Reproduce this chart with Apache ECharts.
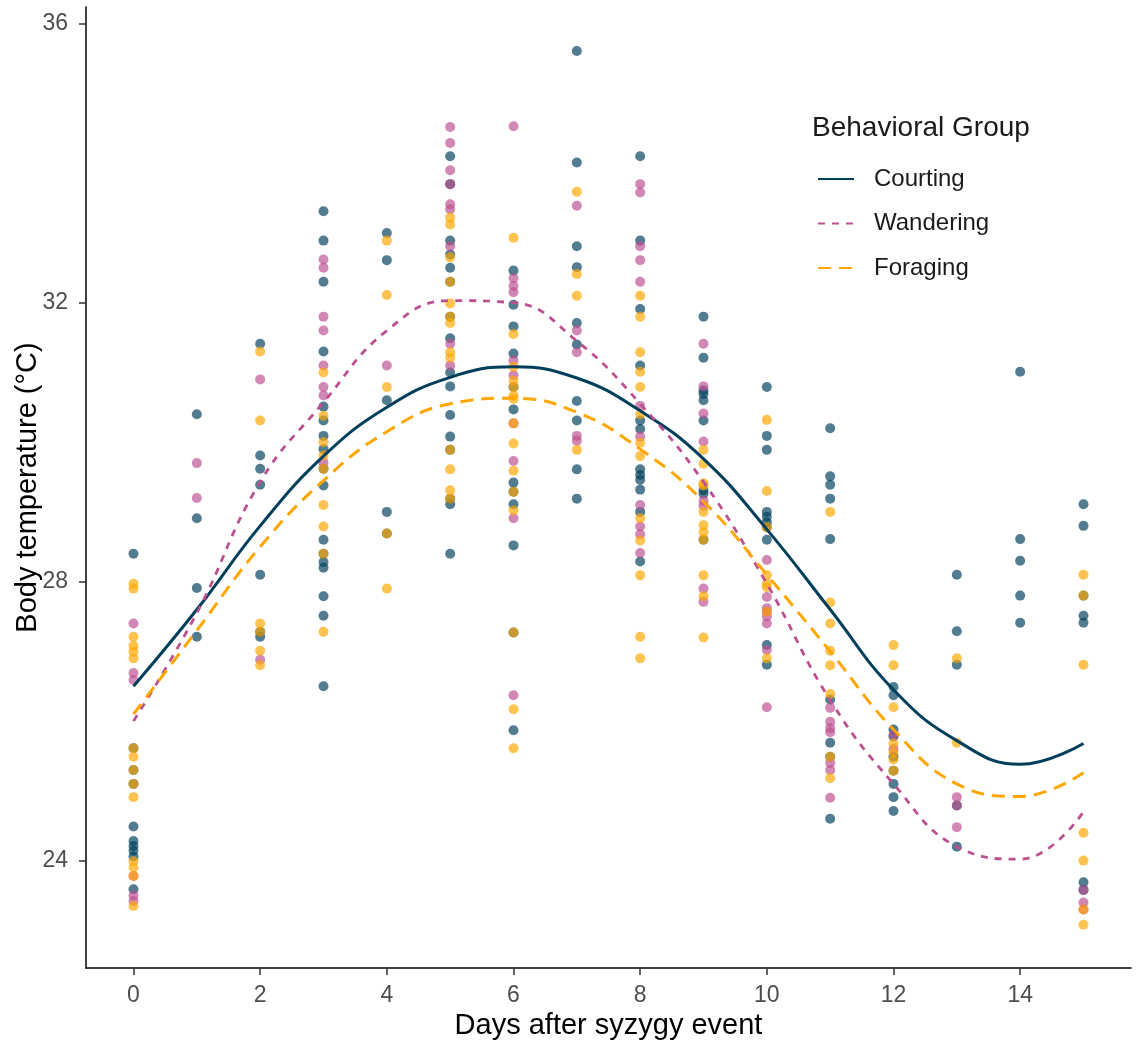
<!DOCTYPE html>
<html>
<head>
<meta charset="utf-8">
<title>Body temperature after syzygy</title>
<script src="https://cdn.jsdelivr.net/npm/echarts@6/dist/echarts.min.js"></script>
<style>
  html, body { margin: 0; padding: 0; background: #ffffff; }
  #chart { width: 1136px; height: 1047px; }
</style>
</head>
<body>
<div id="chart"></div>
<script>
// Days after the syzygy event (x positions of the fitted curves)
const days = [0, 1, 2, 3, 4, 5, 6, 7, 8, 9, 10, 11, 12, 13, 14, 15];

// Smoothed body temperature per behavioral group
const courtingFit  = [26.5, 27.6, 28.8, 29.8, 30.5, 30.93, 31.08, 30.92, 30.45, 29.76, 28.75, 27.6, 26.45, 25.72, 25.38, 25.68];
const wanderingFit = [26.0, 27.55, 29.43, 30.57, 31.6, 32.03, 32.0, 31.45, 30.55, 29.43, 27.97, 26.3, 25.1, 24.2, 24.02, 24.7];
const foragingFit  = [26.1, 27.3, 28.5, 29.45, 30.15, 30.55, 30.63, 30.43, 29.9, 29.15, 28.1, 27.0, 25.88, 25.1, 24.92, 25.26];

// Individual measurements, one list per day (index = day)
const courtingTemps = [
  [28.40, 25.61, 25.30, 25.10, 24.49, 24.28, 24.21, 24.14, 24.06, 23.59],
  [30.40, 28.91, 27.91, 27.21],
  [31.41, 29.81, 29.62, 29.39, 28.10, 27.28, 27.21],
  [33.31, 32.89, 32.30, 31.30, 30.51, 30.31, 30.09, 29.90, 29.62, 29.38, 28.60, 28.40, 28.28, 28.20, 27.79, 27.51, 26.50],
  [33.00, 32.61, 30.60, 29.00, 28.69],
  [34.10, 33.70, 32.89, 32.69, 32.50, 32.30, 31.80, 31.49, 31.00, 30.80, 30.39, 30.08, 29.89, 29.19, 29.11, 28.40],
  [32.46, 31.97, 31.66, 31.27, 30.79, 30.47, 29.42, 29.29, 29.11, 28.52, 27.27, 25.87],
  [35.61, 34.01, 32.81, 32.51, 31.71, 31.40, 30.59, 30.31, 29.61, 29.19],
  [34.10, 32.89, 31.91, 31.10, 30.31, 30.19, 29.61, 29.53, 29.46, 29.32, 29.00, 28.29],
  [31.80, 31.21, 30.74, 30.69, 30.60, 30.31, 29.31, 29.26, 28.60],
  [30.79, 30.09, 29.89, 29.00, 28.93, 28.85, 28.78, 28.60, 27.09, 26.81],
  [30.20, 29.51, 29.39, 29.19, 28.61, 26.31, 25.69, 25.49, 24.60],
  [26.49, 26.37, 25.88, 25.78, 25.49, 25.29, 25.10, 24.91, 24.71],
  [28.10, 27.29, 26.81, 24.79, 24.20],
  [31.01, 28.61, 28.30, 27.80, 27.41],
  [29.11, 28.80, 27.80, 27.51, 27.41, 23.69, 23.58]
];
const wanderingTemps = [
  [27.40, 26.69, 26.59, 23.78, 23.50, 23.42],
  [29.70, 29.20],
  [30.90, 26.88],
  [32.62, 32.50, 31.80, 31.60, 31.10, 30.79, 30.67, 29.71],
  [31.10],
  [34.52, 34.29, 33.90, 33.70, 33.41, 33.34, 32.81, 31.41, 31.10],
  [34.53, 32.35, 32.24, 32.15, 31.17, 30.96, 30.27, 29.73, 28.91, 26.37],
  [33.39, 31.60, 31.29, 30.09, 30.02],
  [33.70, 33.58, 32.81, 32.61, 32.30, 30.52, 30.08, 29.10, 28.79, 28.68, 28.41],
  [31.41, 30.80, 30.41, 30.01, 29.16, 29.09, 27.90, 27.71],
  [28.31, 27.78, 27.62, 27.57, 27.50, 27.40, 27.02, 26.20],
  [26.19, 25.99, 25.90, 25.84, 25.40, 25.30, 24.90],
  [25.80, 25.60],
  [24.91, 24.79, 24.48],
  [],
  [23.58, 23.40, 23.30]
];
const foragingTemps = [
  [27.97, 27.90, 27.21, 27.08, 27.00, 26.90, 25.61, 25.49, 25.30, 25.10, 24.91, 23.99, 23.90, 23.78, 23.35],
  [],
  [31.30, 30.31, 27.40, 27.28, 27.01, 26.80],
  [31.00, 30.38, 30.00, 29.81, 29.62, 29.10, 28.79, 28.40, 27.28],
  [32.89, 32.11, 30.79, 28.69, 27.90],
  [33.22, 33.12, 32.65, 32.30, 31.99, 31.80, 31.71, 31.29, 31.21, 29.89, 29.61, 29.31, 29.19],
  [32.93, 31.55, 31.08, 30.88, 30.79, 30.67, 30.62, 30.27, 29.98, 29.59, 29.29, 29.02, 27.27, 26.17, 25.61],
  [33.59, 32.41, 32.10, 29.89],
  [32.10, 31.80, 31.29, 31.01, 30.79, 30.40, 29.99, 29.80, 28.91, 28.59, 28.09, 27.21, 26.90],
  [29.89, 29.69, 29.41, 29.38, 29.00, 28.81, 28.71, 28.60, 28.09, 27.79, 27.20],
  [30.32, 29.30, 28.78, 28.09, 27.97, 27.92, 27.57, 26.90],
  [29.00, 27.70, 27.40, 27.01, 26.80, 26.39, 25.49, 25.18],
  [27.09, 26.80, 26.20, 25.68, 25.55, 25.45, 25.29],
  [26.90, 25.69],
  [],
  [28.10, 27.80, 26.81, 24.40, 24.00, 23.30, 23.08]
];

// Axis ticks
const xTicks = [0, 2, 4, 6, 8, 10, 12, 14];
const yTicks = [24, 28, 32, 36];

const groupNames = ['Courting', 'Wandering', 'Foraging'];
const groupColors = ['#003f5c', '#bc5090', '#ffa600'];

const FONT = "'Liberation Sans', Arial, sans-serif";

function toPoints(perDay) {
  const out = [];
  perDay.forEach((temps, d) => temps.forEach(t => out.push([d, t])));
  return out;
}
function toCurve(values) {
  return days.map((d, i) => [d, values[i]]);
}

const pointSets = [courtingTemps, wanderingTemps, foragingTemps];
const fits = [courtingFit, wanderingFit, foragingFit];
const dashes = ['solid', [7, 7], [13, 8]];
const widths = [3, 2.8, 3];

const series = [];
pointSets.forEach((set, i) => {
  series.push({
    name: groupNames[i] + ' obs',
    type: 'scatter',
    data: toPoints(set),
    symbol: 'circle',
    symbolSize: 10,
    silent: true,
    z: 2,
    itemStyle: { color: groupColors[i], opacity: 0.68 }
  });
});
fits.forEach((vals, i) => {
  series.push({
    name: groupNames[i],
    type: 'line',
    data: toCurve(vals),
    smooth: 0.45,
    symbol: 'none',
    showSymbol: false,
    silent: true,
    z: 5,
    lineStyle: { color: groupColors[i], width: widths[i], type: dashes[i], cap: 'butt' },
    itemStyle: { color: groupColors[i] }
  });
});

const axisCommon = {
  type: 'value',
  splitLine: { show: false },
  axisLine: { show: true, onZero: false, lineStyle: { color: '#000', width: 1.5 } },
  axisTick: { show: true, length: 7, lineStyle: { color: '#333', width: 1.5 } },
  nameLocation: 'middle',
  nameMoveOverlap: false,
  nameTextStyle: { fontFamily: FONT, fontSize: 29, color: '#000' }
};

const chart = echarts.init(document.getElementById('chart'), null, { renderer: 'canvas' });
chart.setOption({
  animation: false,
  backgroundColor: '#ffffff',
  textStyle: { fontFamily: FONT },
  grid: { left: 86, right: 5, top: 7, bottom: 79, containLabel: false, outerBoundsMode: 'none' },
  title: {
    text: 'Behavioral Group',
    left: 807,
    top: 109,
    textStyle: { fontFamily: FONT, fontSize: 28, fontWeight: 'normal', color: '#1a1a1a' }
  },
  legend: {
    data: groupNames,
    orient: 'vertical',
    left: 812,
    top: 162,
    itemWidth: 36,
    itemHeight: 14,
    itemGap: 20.5,
    itemStyle: { opacity: 0, borderWidth: 0 },
    textStyle: { fontFamily: FONT, fontSize: 24, color: '#1a1a1a', padding: [0, 0, 0, 15] },
    selectedMode: false
  },
  xAxis: Object.assign({}, axisCommon, {
    min: -0.75,
    max: 15.75,
    name: 'Days after syzygy event',
    nameGap: 43,
    axisTick: Object.assign({}, axisCommon.axisTick, { customValues: xTicks }),
    axisLabel: { customValues: xTicks, fontFamily: FONT, fontSize: 23, color: '#4d4d4d', margin: 16 }
  }),
  yAxis: Object.assign({}, axisCommon, {
    min: 22.46,
    max: 36.24,
    name: 'Body temperature (°C)',
    nameRotate: 90,
    nameGap: 44,
    axisTick: Object.assign({}, axisCommon.axisTick, { customValues: yTicks }),
    axisLabel: { customValues: yTicks, fontFamily: FONT, fontSize: 23, color: '#4d4d4d', margin: 18 }
  }),
  series: series
});
</script>
</body>
</html>
